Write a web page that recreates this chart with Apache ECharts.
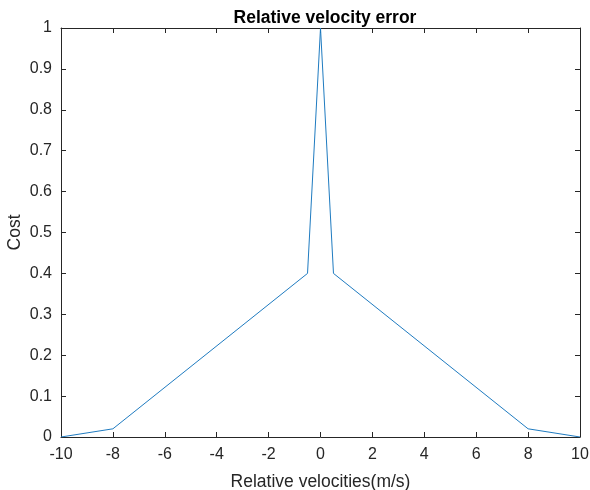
<!DOCTYPE html>
<html>
<head>
<meta charset="utf-8">
<script src="https://cdn.jsdelivr.net/npm/echarts@6/dist/echarts.min.js"></script>
<style>html,body{margin:0;padding:0;background:#fff;}#c{width:590px;height:490px;}</style>
</head>
<body>
<div id="c"></div>
<script>
const velocities = [-10, -8, -0.5, 0, 0.5, 8, 10];
const costs = [0, 0.02, 0.4, 1, 0.4, 0.02, 0];
const titleText = 'Relative velocity error';
const xName = 'Relative velocities(m/s)';
const yName = 'Cost';

const axisColor = '#262626';
const font = 'Liberation Sans, Arial, sans-serif';
const chart = echarts.init(document.getElementById('c'));
const common = {
  axisLine: {show: true, onZero: false, lineStyle: {color: axisColor, width: 1}},
  axisTick: {show: true, inside: true, length: 5, lineStyle: {color: axisColor}},
  splitLine: {show: false}
};
chart.setOption({
  animation: false,
  backgroundColor: '#fff',
  title: {text: titleText, left: 320, textAlign: 'center', top: 4,
    textStyle: {fontFamily: font, fontSize: 17.5, fontWeight: 'bold', color: '#000'}},
  grid: {left: 61, right: 10, top: 28, bottom: 53, containLabel: false, outerBoundsMode: 'none'},
  xAxis: [
    Object.assign({type: 'value', min: -10, max: 10, interval: 2, position: 'bottom',
      name: xName, nameLocation: 'middle', nameGap: 36, nameMoveOverlap: false,
      nameTextStyle: {fontFamily: font, fontSize: 17.5, color: axisColor},
      axisLabel: {fontFamily: font, fontSize: 16, color: axisColor, margin: 10}}, common),
    Object.assign({type: 'value', min: -10, max: 10, interval: 2, position: 'top',
      axisLabel: {show: false}}, common)
  ],
  yAxis: [
    Object.assign({type: 'value', min: 0, max: 1, interval: 0.1, position: 'left',
      name: yName, nameLocation: 'middle', nameGap: 37, nameMoveOverlap: false,
      nameTextStyle: {fontFamily: font, fontSize: 17.5, color: axisColor},
      axisLabel: {fontFamily: font, fontSize: 16, color: axisColor, margin: 9,
        formatter: v => String(Math.round(v * 10) / 10)}}, common),
    Object.assign({type: 'value', min: 0, max: 1, interval: 0.1, position: 'right',
      axisLabel: {show: false}}, common)
  ],
  series: [{
    type: 'line',
    data: velocities.map((v, i) => [v, costs[i]]),
    showSymbol: false,
    lineStyle: {color: '#1f7bc0', width: 1},
    itemStyle: {color: '#1f7bc0'}
  }]
});
</script>
</body>
</html>
